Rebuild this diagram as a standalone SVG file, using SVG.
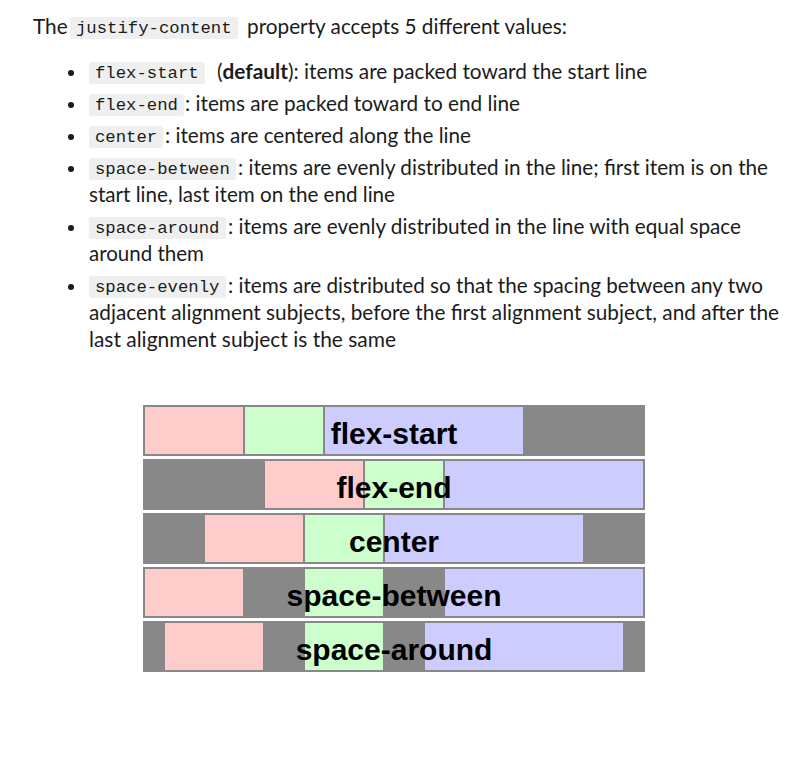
<svg xmlns="http://www.w3.org/2000/svg" width="799" height="765" viewBox="0 0 799 765">
<style>
.t{font-family:Lato,"Noto Sans",sans-serif;font-size:20.8px;fill:#1b1b1b}
.b{font-weight:bold}
.c{font-family:"Liberation Mono","DejaVu Sans Mono",monospace;font-size:17.3px;fill:#1b1b1b}
.cb{fill:#efefef}
.dot{fill:#1b1b1b}
.row{fill:#888888}
.p{fill:#ffcccc}
.g{fill:#ccffcc}
.v{fill:#ccccff}
.lbl{font-family:"Liberation Sans",Arial,sans-serif;font-weight:bold;font-size:30px;fill:#000;text-anchor:middle}
</style>
<rect width="799" height="765" fill="#ffffff"/>
<g id="intro">
<text class="t" x="33" y="34">The</text>
<rect class="cb" x="70" y="17" width="168" height="22" rx="3"/>
<text class="c" x="76" y="33">justify-content</text>
<text class="t" x="247" y="34" textLength="320" lengthAdjust="spacingAndGlyphs">property accepts 5 different values:</text>
</g>
<g id="list">
<circle class="dot" cx="71" cy="73" r="3"/>
<rect class="cb" x="89" y="62" width="116" height="22" rx="3"/>
<text class="c" x="95" y="78">flex-start</text>
<text class="t" x="217" y="79">(<tspan class="b">default</tspan>): items are packed toward the start line</text>

<circle class="dot" cx="71" cy="105" r="3"/>
<rect class="cb" x="89" y="94" width="95" height="22" rx="3"/>
<text class="c" x="95" y="110">flex-end</text>
<text class="t" x="185" y="111" textLength="335" lengthAdjust="spacingAndGlyphs">: items are packed toward to end line</text>

<circle class="dot" cx="71" cy="137" r="3"/>
<rect class="cb" x="89" y="126" width="74" height="22" rx="3"/>
<text class="c" x="95" y="142">center</text>
<text class="t" x="165" y="143" textLength="306" lengthAdjust="spacingAndGlyphs">: items are centered along the line</text>

<circle class="dot" cx="71" cy="169" r="3"/>
<rect class="cb" x="89" y="158" width="147" height="22" rx="3"/>
<text class="c" x="95" y="174">space-between</text>
<text class="t" x="238" y="175" textLength="530" lengthAdjust="spacingAndGlyphs">: items are evenly distributed in the line; first item is on the</text>
<text class="t" x="89" y="202" textLength="306" lengthAdjust="spacingAndGlyphs">start line, last item on the end line</text>

<circle class="dot" cx="71" cy="228" r="3"/>
<rect class="cb" x="89" y="217" width="137" height="22" rx="3"/>
<text class="c" x="95" y="233">space-around</text>
<text class="t" x="228" y="234" textLength="513" lengthAdjust="spacingAndGlyphs">: items are evenly distributed in the line with equal space</text>
<text class="t" x="89" y="261" textLength="115" lengthAdjust="spacingAndGlyphs">around them</text>

<circle class="dot" cx="71" cy="287" r="3"/>
<rect class="cb" x="89" y="276" width="137" height="22" rx="3"/>
<text class="c" x="95" y="292">space-evenly</text>
<text class="t" x="228" y="293" textLength="535" lengthAdjust="spacingAndGlyphs">: items are distributed so that the spacing between any two</text>
<text class="t" x="89" y="320" textLength="690" lengthAdjust="spacingAndGlyphs">adjacent alignment subjects, before the first alignment subject, and after the</text>
<text class="t" x="89" y="347" textLength="307" lengthAdjust="spacingAndGlyphs">last alignment subject is the same</text>
</g>
<g id="row-flex-start">
<rect class="row" x="143" y="405" width="502" height="51"/>
<rect class="p" x="145" y="407" width="98" height="47"/>
<rect class="g" x="245" y="407" width="78" height="47"/>
<rect class="v" x="325" y="407" width="198" height="47"/>
<text class="lbl" x="394" y="444">flex-start</text>
</g>
<g id="row-flex-end">
<rect class="row" x="143" y="459" width="502" height="51"/>
<rect class="p" x="265" y="461" width="98" height="47"/>
<rect class="g" x="365" y="461" width="78" height="47"/>
<rect class="v" x="445" y="461" width="198" height="47"/>
<text class="lbl" x="394" y="498">flex-end</text>
</g>
<g id="row-center">
<rect class="row" x="143" y="513" width="502" height="51"/>
<rect class="p" x="205" y="515" width="98" height="47"/>
<rect class="g" x="305" y="515" width="78" height="47"/>
<rect class="v" x="385" y="515" width="198" height="47"/>
<text class="lbl" x="394" y="552">center</text>
</g>
<g id="row-space-between">
<rect class="row" x="143" y="567" width="502" height="51"/>
<rect class="p" x="145" y="569" width="98" height="47"/>
<rect class="g" x="305" y="569" width="78" height="47"/>
<rect class="v" x="445" y="569" width="198" height="47"/>
<text class="lbl" x="394" y="606">space-between</text>
</g>
<g id="row-space-around">
<rect class="row" x="143" y="621" width="502" height="51"/>
<rect class="p" x="165" y="623" width="98" height="47"/>
<rect class="g" x="305" y="623" width="78" height="47"/>
<rect class="v" x="425" y="623" width="198" height="47"/>
<text class="lbl" x="394" y="660">space-around</text>
</g>
<g id="connectors"></g>
</svg>
